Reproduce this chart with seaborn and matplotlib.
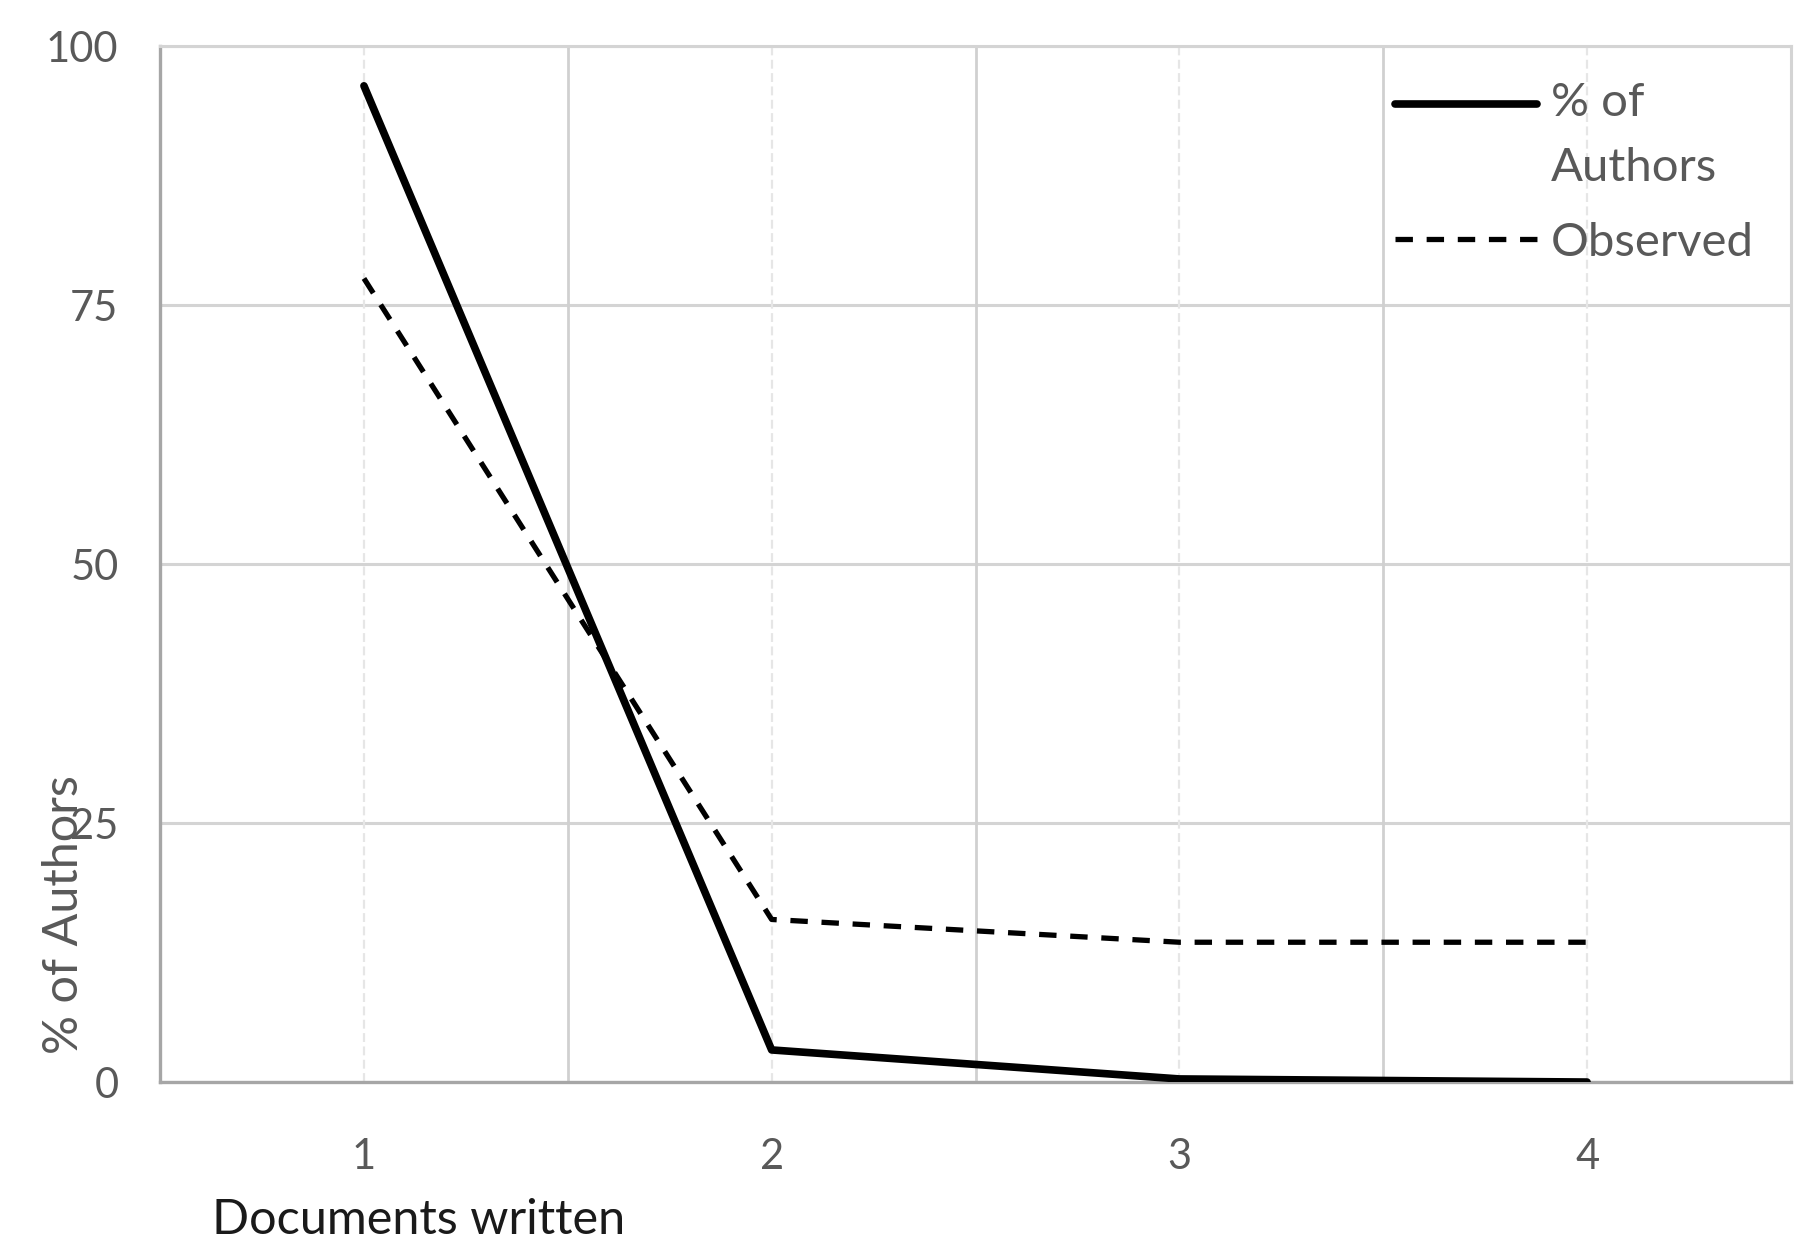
import matplotlib
matplotlib.use("Agg")
import matplotlib.pyplot as plt
import seaborn as sns
import pandas as pd

# ---- data ----
docs_written = [1, 2, 3, 4]
pct_of_authors = [96.2, 3.1, 0.3, 0.0]
observed = [77.6, 15.7, 13.5, 13.5]
y_ticks = [0, 25, 50, 75, 100]
x_ticks = [1, 2, 3, 4]
series_names = ["% of\nAuthors", "Observed"]

sns.set_theme(style="white")
plt.rcParams["font.family"] = ["Lato", "DejaVu Sans"]

fig = plt.figure(figsize=(18.09, 12.56), dpi=100)
ax = fig.add_axes([0.0885, 0.1385, 0.9015, 0.8245])

df_a = pd.DataFrame({"docs": docs_written, "value": pct_of_authors})
df_o = pd.DataFrame({"docs": docs_written, "value": observed})

sns.lineplot(data=df_a, x="docs", y="value", ax=ax, color="black",
             linewidth=5.5, label=series_names[0], solid_capstyle="round",
             zorder=4)
sns.lineplot(data=df_o, x="docs", y="value", ax=ax, color="black",
             linewidth=3.8, label=series_names[1], zorder=3)
ax.lines[1].set_dashes([3.3, 2.6])

ax.set_xlim(0.5, 4.5)
ax.set_ylim(0, 100)
ax.set_xticks(x_ticks)
ax.set_xticklabels([str(t) for t in x_ticks])
ax.set_yticks(y_ticks)
ax.set_yticklabels([str(t) for t in y_ticks])

# gridlines
for yv in y_ticks:
    ax.axhline(yv, color="#d4d4d4", lw=2.2, zorder=0)
for xv in [1.5, 2.5, 3.5]:
    ax.axvline(xv, color="#d0d0d0", lw=2.0, zorder=0)
for xv in x_ticks:
    ax.axvline(xv, color="#e6e6e6", lw=1.6, ls=(0, (4, 2)), zorder=0)

for side in ["top", "right"]:
    ax.spines[side].set_color("#d4d4d4")
    ax.spines[side].set_linewidth(2.2)
for side in ["left", "bottom"]:
    ax.spines[side].set_color("#a6a6a6")
    ax.spines[side].set_linewidth(2.4)

ax.tick_params(axis="both", length=0, labelsize=30, labelcolor="#595959")
ax.tick_params(axis="y", pad=30)
ax.tick_params(axis="x", pad=40)

ax.set_xlabel("Documents written", fontsize=35, color="#1a1a1a",
              ha="left", va="center")
ax.xaxis.set_label_coords(0.032, -0.133)
ax.set_ylabel("% of Authors", fontsize=35, color="#595959",
              ha="center", va="center")
ax.yaxis.set_label_coords(-0.059, 0.162)

leg = ax.legend(loc="upper left", bbox_to_anchor=(0.737, 0.998),
                frameon=False, fontsize=34, handlelength=3.0,
                handletextpad=0.3, labelspacing=0.68, borderpad=0.2)
for t in leg.get_texts():
    t.set_color("#595959")
    t.set_linespacing(1.7)

# align the first handle with the first text line
h0 = leg.legend_handles[0]
yd = h0.get_ydata()
h0.set_ydata([v + 23 for v in yd])

fig.savefig("out.png", dpi=100)
